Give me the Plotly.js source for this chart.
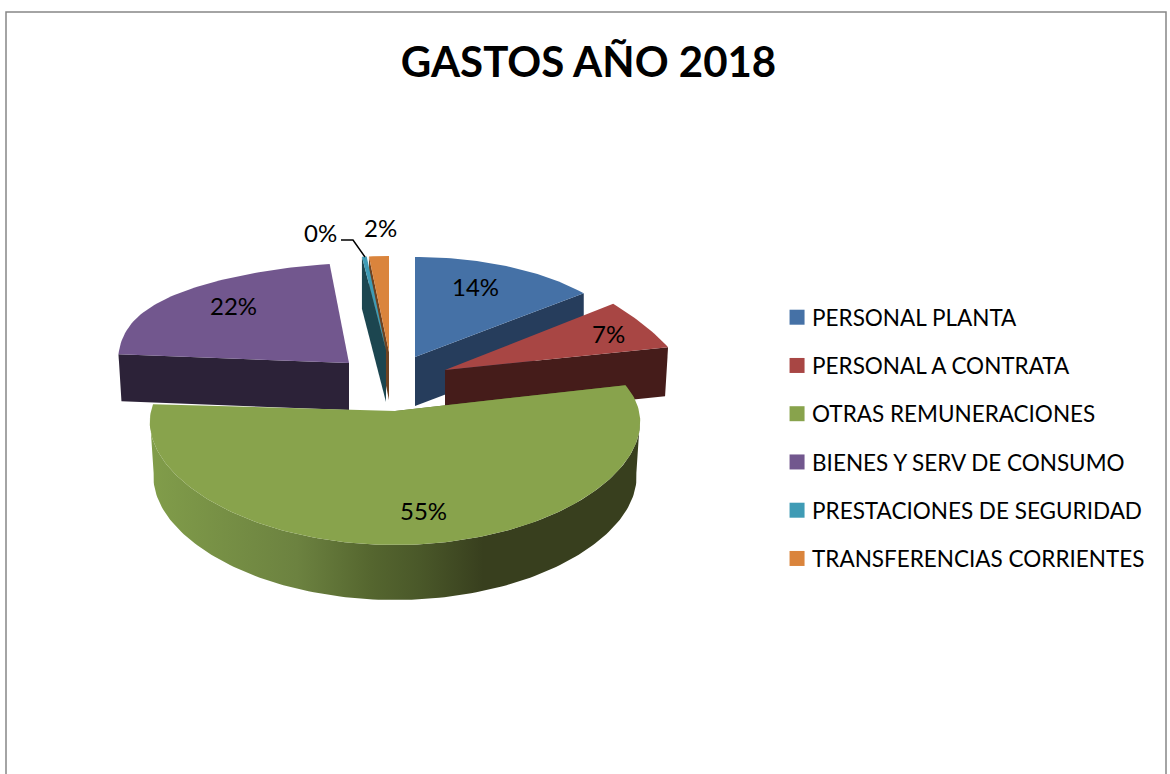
<!DOCTYPE html>
<html><head><meta charset="utf-8">
<script src="https://cdn.plot.ly/plotly-3.0.1.min.js"></script>
<style>html,body{margin:0;padding:0;background:#fff}#c{width:1170px;height:774px}</style>
</head><body><div id="c"></div>
<script>
const categories = ["PERSONAL PLANTA","PERSONAL A CONTRATA","OTRAS REMUNERACIONES","BIENES Y SERV DE CONSUMO","PRESTACIONES DE SEGURIDAD","TRANSFERENCIAS CORRIENTES"];
const shares = [14, 7, 55, 22, 0.4, 1.6];
const topColors = ["#4571a6","#a84644","#88a34c","#72578e","#3f9bb5","#da843c"];
const sideColors = ["#263d5c","#451c1a","#5a6d30","#2c2238","#1c4650","#6e4220"];

// Projection of each exploded slice of the tilted pie (screen pixels, perspective warp k/p/m)
const geometry = [
  {cx:415,cy:357,rx:219,ry:100,k:0,p:1,m:0,depth:49},
  {cx:445,cy:370,rx:238,ry:84,k:0.13,p:1,m:0.37,depth:49},
  {cx:395,cy:411,rx:244,ry:110,k:0.1,p:1,m:-0.218,depth:55},
  {cx:349,cy:363,rx:231,ry:140,k:0.34,p:3,m:-0.29,depth:47},
  {cx:386,cy:350,rx:192,ry:94,k:0,p:1,m:0,depth:52},
  {cx:389,cy:352,rx:200,ry:96,k:0,p:1,m:0,depth:48}
];
const drawOrder = [5,4,0,1,3,2];
const labelAnchors = [[475,286],[608,333],[423,510],[233,305],[320,232],[380,227]];
const FONT = "Lato, Carlito, sans-serif";

function project(g, frac, extra){
  const t = frac*2*Math.PI, u = Math.sin(t), v = Math.cos(t);
  return [g.cx + g.rx*u*(1 - g.k*Math.pow(v,g.p)), g.cy - g.ry*v*(1 + g.m*v) + (extra||0)];
}
function arc(g, a, b, extra){
  const pts = [], n = Math.max(4, Math.ceil((b-a)*300));
  for(let i=0;i<=n;i++) pts.push(project(g, a+(b-a)*i/n, extra));
  return pts;
}
function polyTrace(pts, color, extra){
  const xs = pts.map(p=>p[0]), ys = pts.map(p=>p[1]);
  xs.push(xs[0]); ys.push(ys[0]);
  return Object.assign({type:"scatter",mode:"lines",x:xs,y:ys,fill:"toself",fillcolor:color,
    line:{width:0,color:color},showlegend:false,hoverinfo:"skip"}, extra||{});
}

const traces = [];
// legend entries
categories.forEach((name,i)=>{
  traces.push({type:"scatter",mode:"markers",x:[null],y:[null],name:name,legendgroup:"g"+i,
    marker:{symbol:"square",size:15,color:topColors[i]},showlegend:true,hoverinfo:"skip"});
});

let cum = [0];
shares.forEach((s,i)=>cum.push(cum[i]+s/100));
const slices = drawOrder.map(i=>{
  const g = geometry[i], a = cum[i], b = cum[i+1];
  const out = [];
  const apex = [g.cx,g.cy];
  // cut face at the trailing edge (blue, red) or leading edge (purple, thin slices)
  const faceFrac = (i===0||i===1) ? b : a;
  const rim = project(g, faceFrac);
  const lean = i===1 ? -3 : (i===3 ? 3 : 0);
  out.push(polyTrace([apex, rim, [rim[0]+lean,rim[1]+g.depth], [apex[0],apex[1]+g.depth]], sideColors[i]));
  if(i===2){
    // curved outer wall of the large slice, slightly narrower at its foot
    const front = arc(g, 0.26, 0.74);
    const lower = front.map(p=>[g.cx+(p[0]-g.cx)*0.985,p[1]+g.depth]).reverse();
    out.push(polyTrace(front.concat(lower), sideColors[i], {
      fillgradient:{type:"horizontal",start:150,stop:640,colorscale:[
        [0,"#819d4a"],[0.3,"#6c8240"],[0.45,"#55662f"],[0.55,"#4a5829"],[0.68,"#383f1e"],[1,"#383f1e"]]}
    }));
  }
  out.push(polyTrace([apex].concat(arc(g,a,b)), topColors[i]));
  return out;
});
slices.forEach(s=>s.forEach(t=>traces.push(t)));

const annotations = shares.map((s,i)=>({
  x:labelAnchors[i][0],y:labelAnchors[i][1],xref:"x",yref:"y",showarrow:false,
  text:Math.round(s)+"%",font:{family:FONT,size:24,color:"#000"}
}));

const layout = {
  width:1170,height:774,margin:{l:0,r:0,t:0,b:0},
  paper_bgcolor:"#fff",plot_bgcolor:"#fff",
  title:{text:"<b>GASTOS AÑO 2018</b>",font:{family:FONT,size:42,color:"#000"},x:0.503,xanchor:"center",y:0.919,yanchor:"middle"},
  xaxis:{range:[0,1170],visible:false,fixedrange:true},
  yaxis:{range:[774,0],visible:false,fixedrange:true},
  legend:{x:0.665,xanchor:"left",y:0.434,yanchor:"middle",font:{family:FONT,size:22.5,color:"#000"},
    tracegroupgap:16,itemwidth:30,indentation:-6,bgcolor:"rgba(0,0,0,0)"},
  annotations:annotations,
  shapes:[
    {type:"path",xref:"x",yref:"y",path:"M6,774 L6,12 L1166,12 L1166,774",line:{color:"#868686",width:1.5},layer:"below"},
    {type:"path",xref:"x",yref:"y",path:"M341,240 L353,240 L365,257",line:{color:"#000",width:1.5}}
  ]
};
Plotly.newPlot("c",traces,layout,{displayModeBar:false,staticPlot:true}).then(()=>{
  // bring the legend swatches closer to their labels
  document.querySelectorAll("#c .legend .legendpoints").forEach(n=>n.setAttribute("transform","translate(5,0)"));
});
</script></body></html>
